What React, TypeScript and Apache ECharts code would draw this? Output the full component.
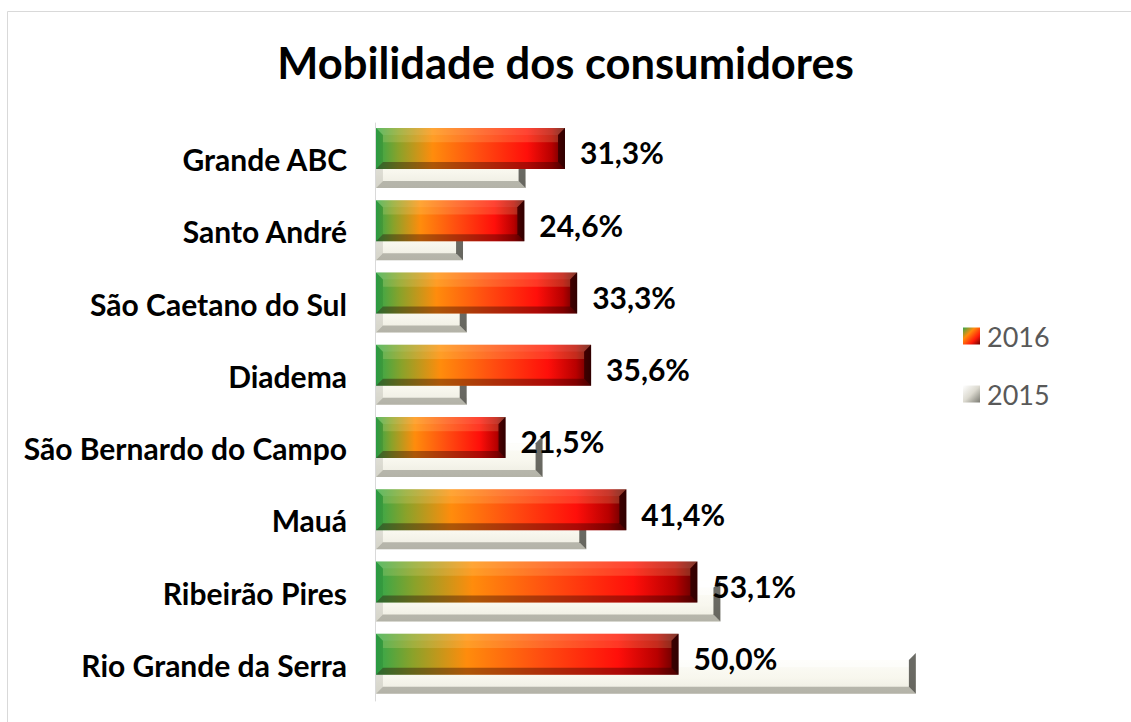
import React, { useEffect, useRef } from "react";
import * as echarts from "echarts";

const categories = [
  "Grande ABC",
  "Santo André",
  "São Caetano do Sul",
  "Diadema",
  "São Bernardo do Campo",
  "Mauá",
  "Ribeirão Pires",
  "Rio Grande da Serra",
];
const values2016 = [31.3, 24.6, 33.3, 35.6, 21.5, 41.4, 53.1, 50.0];
const values2015 = [24.8, 14.5, 15.1, 15.1, 27.6, 34.8, 56.9, 89.1];
const seriesNames = ["2016", "2015"];
const titleText = "Mobilidade dos consumidores";

const FONT = "Lato, 'Open Sans', sans-serif";

const grad2016 = () =>
  new echarts.graphic.LinearGradient(0, 0, 1, 0, [
    { offset: 0, color: "#2fa84c" },
    { offset: 0.12, color: "#8aa22a" },
    { offset: 0.3, color: "#ff8c0c" },
    { offset: 0.55, color: "#ff4c10" },
    { offset: 0.8, color: "#ff0f0a" },
    { offset: 0.93, color: "#b80000" },
    { offset: 1, color: "#5a0000" },
  ]);

const grad2015 = () =>
  new echarts.graphic.LinearGradient(0, 0, 0, 1, [
    { offset: 0, color: "#fefefa" },
    { offset: 0.6, color: "#f8f7ee" },
    { offset: 1, color: "#ecebe0" },
  ]);

function makeRender(kind: "2016" | "2015") {
  return (params: any, api: any) => {
    const v = api.value(0);
    const cat = api.value(1);
    const p0 = api.coord([0, cat]);
    const p1 = api.coord([v, cat]);
    const band = api.size([0, 1])[1];
    const h = band * 0.565;
    const top = kind === "2016" ? p0[1] - band * 0.43 : p0[1] - band * 0.165;
    const x0 = p0[0] + 1;
    const x1 = p1[0];
    const y0 = top;
    const y1 = top + h;
    const b = Math.min(h * 0.17, (x1 - x0) / 2);
    const is16 = kind === "2016";
    const children: any[] = [
      {
        type: "rect",
        shape: { x: x0, y: y0, width: x1 - x0, height: h },
        style: { fill: is16 ? grad2016() : grad2015() },
      },
      {
        type: "rect",
        shape: { x: x0 + b, y: y0 + b, width: Math.max(0, x1 - x0 - 2 * b), height: h * 0.18 },
        style: { fill: is16 ? "rgba(255,240,160,0.18)" : "rgba(255,255,255,0.5)" },
      },
      {
        type: "polygon",
        shape: { points: [[x0, y0], [x1, y0], [x1 - b, y0 + b], [x0 + b, y0 + b]] },
        style: { fill: is16 ? "rgba(255,255,200,0.22)" : "rgba(255,255,255,0.9)" },
      },
      {
        type: "polygon",
        shape: { points: [[x0, y1], [x1, y1], [x1 - b, y1 - b], [x0 + b, y1 - b]] },
        style: { fill: is16 ? "rgba(40,0,0,0.38)" : "rgba(110,110,100,0.45)" },
      },
      {
        type: "polygon",
        shape: { points: [[x0, y0], [x0 + b, y0 + b], [x0 + b, y1 - b], [x0, y1]] },
        style: { fill: is16 ? "rgba(0,60,0,0.12)" : "rgba(160,160,150,0.3)" },
      },
      {
        type: "polygon",
        shape: { points: [[x1, y0], [x1 - b, y0 + b], [x1 - b, y1 - b], [x1, y1]] },
        style: { fill: is16 ? "rgba(20,0,0,0.6)" : "rgba(50,50,45,0.72)" },
      },
    ];
    if (is16) {
      children.push({
        type: "text",
        x: x1 + 15,
        y: (y0 + y1) / 2 + 4,
        style: {
          text: v.toFixed(1).replace(".", ",") + "%",
          fill: "#000000",
          fontFamily: FONT,
          fontWeight: "bold",
          fontSize: 30,
          align: "left",
          verticalAlign: "middle",
        },
      });
    }
    return { type: "group", children };
  };
}

export default function App() {
  const ref = useRef<HTMLDivElement>(null);
  useEffect(() => {
    if (!ref.current) return;
    const chart = echarts.init(ref.current, undefined, { renderer: "svg" });
    chart.setOption({
      animation: false,
      backgroundColor: "#ffffff",
      textStyle: { fontFamily: FONT },
      title: {
        text: titleText,
        left: "center",
        top: 35,
        padding: [0, 8, 0, 0],
        textStyle: {
          fontFamily: FONT,
          fontWeight: "bold",
          fontSize: 43.5,
          lineHeight: 54,
          color: "#000000",
        },
      },
      graphic: [
        {
          type: "rect",
          shape: { x: 7.5, y: 11.5, width: 1140, height: 730 },
          style: { fill: "none", stroke: "#d9d9d9", lineWidth: 1 },
          silent: true,
        },
      ],
      legend: {
        orient: "vertical",
        left: 958,
        top: 316,
        itemWidth: 17,
        itemHeight: 17,
        itemGap: 28,
        icon: "rect",
        textStyle: {
          fontFamily: FONT,
          fontSize: 27,
          color: "#595959",
          lineHeight: 30,
          padding: [0, 0, 0, 2],
        },
        data: [
          {
            name: seriesNames[0],
            itemStyle: {
              color: new echarts.graphic.LinearGradient(0, 0, 1, 1, [
                { offset: 0, color: "#2fa84c" },
                { offset: 0.35, color: "#ff8c0c" },
                { offset: 0.7, color: "#ff1a0a" },
                { offset: 1, color: "#6a0000" },
              ]),
            },
          },
          {
            name: seriesNames[1],
            itemStyle: {
              color: new echarts.graphic.LinearGradient(0, 0, 1, 1, [
                { offset: 0, color: "#ffffff" },
                { offset: 0.5, color: "#dcdad0" },
                { offset: 1, color: "#7a7a72" },
              ]),
            },
          },
        ],
      },
      grid: { left: 375, right: 149, top: 123, bottom: 21, containLabel: false },
      xAxis: {
        type: "value",
        min: 0,
        max: 100,
        show: false,
      },
      yAxis: {
        type: "category",
        data: categories,
        inverse: true,
        axisLine: { show: true, lineStyle: { color: "#d9d9d9", width: 1 } },
        axisTick: { show: false },
        splitLine: { show: false },
        axisLabel: {
          margin: 28,
          fontFamily: FONT,
          fontWeight: "bold",
          fontSize: 30,
          color: "#000000",
        },
      },
      series: [
        {
          name: seriesNames[1],
          type: "custom",
          z: 2,
          renderItem: makeRender("2015"),
          encode: { x: 0, y: 1 },
          itemStyle: { color: "#e6e4d8" },
          data: values2015.map((v, i) => [v, i]),
        },
        {
          name: seriesNames[0],
          type: "custom",
          z: 3,
          renderItem: makeRender("2016"),
          encode: { x: 0, y: 1 },
          itemStyle: { color: "#ff4c10" },
          data: values2016.map((v, i) => [v, i]),
        },
      ],
    });
    return () => chart.dispose();
  }, []);
  return (
    <div
      ref={ref}
      style={{ position: "absolute", left: 0, top: 0, width: 1131, height: 722, background: "#fff" }}
    />
  );
}
